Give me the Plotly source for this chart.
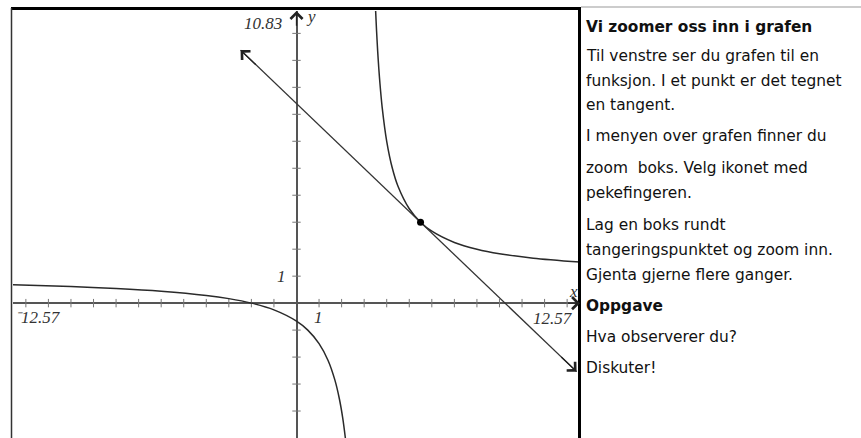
import plotly.graph_objects as go

W, H = 861, 438

# ---- data ----
left_x = [-12.57, -10.0, -8.0, -6.0, -4.0, -3.0, -2.0, -1.0, 0.0, 0.5, 1.0, 1.4, 1.7, 1.9, 2.05, 2.167, 2.2]
left_y = [0.679, 0.615, 0.545, 0.444, 0.286, 0.167, 0.0, -0.25, -0.667, -1.0, -1.5, -2.125, -2.846, -3.545, -4.263, -5.0, -5.25]
right_x = [3.48, 3.509, 3.55, 3.6, 3.65, 3.7, 3.8, 4.0, 4.25, 4.5, 5.0, 5.5, 6.0, 7.0, 8.0, 9.0, 10.5, 12.57]
right_y = [11.42, 10.83, 10.09, 9.333, 8.69, 8.143, 7.25, 6.0, 5.0, 4.333, 3.5, 3.0, 2.667, 2.25, 2.0, 1.833, 1.667, 1.522]
tangent_x = [-2.48, 12.42]
tangent_y = [9.38, -2.54]
point_x = [5.5]
point_y = [3.0]
x_ticks = [-12, -11, -10, -9, -8, -7, -6, -5, -4, -3, -2, -1, 1, 2, 3, 4, 5, 6, 7, 8, 9, 10, 11, 12]
y_ticks = [-4, -3, -2, -1, 1, 2, 3, 4, 5, 6, 7, 8, 9, 10]
x_range = [-12.57, 12.57]
y_range = [-5.0, 10.83]
x_min_label = "\u207b12.57"
x_max_label = "12.57"
y_max_label = "10.83"

text_lines = [
    ("<b>Vi zoomer oss inn i grafen</b>", 27),
    ("Til venstre ser du grafen til en", 56),
    ("funksjon. I et punkt er det tegnet", 81),
    ("en tangent.", 105),
    ("I menyen over grafen finner du", 136),
    ("zoom\u00a0 boks. Velg ikonet med", 168),
    ("pekefingeren.", 193),
    ("Lag en boks rundt", 225),
    ("tangeringspunktet og zoom inn.", 250),
    ("Gjenta gjerne flere ganger.", 275),
    ("<b>Oppgave</b>", 306),
    ("Hva observerer du?", 337),
    ("Diskuter!", 368),
]


def px(x):
    return x / W


def py(y):
    return 1 - y / H


fig = go.Figure()

# axis ticks
fig.add_trace(go.Scatter(x=x_ticks, y=[0] * len(x_ticks), mode="markers",
                         marker=dict(symbol="line-ns", size=6, line=dict(width=1, color="#777")),
                         hoverinfo="skip", showlegend=False))
fig.add_trace(go.Scatter(x=[0] * len(y_ticks), y=y_ticks, mode="markers",
                         marker=dict(symbol="line-ew", size=6, line=dict(width=1, color="#777")),
                         hoverinfo="skip", showlegend=False))

# function branches
for xs, ys in ((left_x, left_y), (right_x, right_y)):
    fig.add_trace(go.Scatter(x=xs, y=ys, mode="lines",
                             line=dict(color="#2a2a2a", width=1.5, shape="spline", smoothing=0.8),
                             hoverinfo="skip", showlegend=False))

# tangent
fig.add_trace(go.Scatter(x=tangent_x, y=tangent_y, mode="lines",
                         line=dict(color="#333", width=1.3),
                         hoverinfo="skip", showlegend=False))
fig.add_trace(go.Scatter(x=point_x, y=point_y, mode="markers",
                         marker=dict(color="black", size=7),
                         hoverinfo="skip", showlegend=False))

arrow_common = dict(xref="x", yref="y", axref="x", ayref="y", text="", showarrow=True,
                    arrowhead=4, arrowsize=1.8, arrowwidth=1.3, arrowcolor="#222", standoff=0)

ann = []
# tangent arrowheads (short tails along the line)
dx = tangent_x[1] - tangent_x[0]
dy = tangent_y[1] - tangent_y[0]
ann.append(dict(x=tangent_x[0], y=tangent_y[0], ax=tangent_x[0] + 0.05 * dx, ay=tangent_y[0] + 0.05 * dy, **arrow_common))
ann.append(dict(x=tangent_x[1], y=tangent_y[1], ax=tangent_x[1] - 0.05 * dx, ay=tangent_y[1] - 0.05 * dy, **arrow_common))
# axis arrowheads
ann.append(dict(x=0, y=y_range[1], ax=0, ay=y_range[1] - 0.6, **arrow_common))
ann.append(dict(x=x_range[1], y=0, ax=x_range[1] - 0.6, ay=0, **arrow_common))

serif = dict(family="Liberation Serif", size=17, color="#333")
def lab(text, x, y, xa="center", ya="middle"):
    return dict(text="<i>" + text + "</i>", x=px(x), y=py(y), xref="paper", yref="paper",
                xanchor=xa, yanchor=ya, showarrow=False, font=serif)

ann.append(lab(y_max_label, 284, 23, xa="right"))
ann.append(lab("y", 311, 17))
ann.append(lab("1", 281, 276))
ann.append(lab("1", 318, 317))
ann.append(lab("x", 573, 291))
ann.append(lab(x_max_label, 575, 318, xa="right"))
ann.append(lab(x_min_label, 13, 317, xa="left"))

for t, yc in text_lines:
    ann.append(dict(text=t, x=px(584), y=py(yc), xref="paper", yref="paper",
                    xanchor="left", yanchor="middle", showarrow=False,
                    font=dict(family="DejaVu Sans", size=15.4, color="#111")))

shapes = [
    dict(type="line", xref="paper", yref="paper", x0=px(11), x1=px(581), y0=py(8.5), y1=py(8.5),
         line=dict(color="black", width=3)),
    dict(type="line", xref="paper", yref="paper", x0=px(11.5), x1=px(11.5), y0=py(8), y1=py(438),
         line=dict(color="#333", width=1.5)),
    dict(type="line", xref="paper", yref="paper", x0=px(579.5), x1=px(579.5), y0=py(7), y1=py(438),
         line=dict(color="black", width=3)),
    dict(type="line", xref="paper", yref="paper", x0=px(581), x1=px(861), y0=py(7), y1=py(7),
         line=dict(color="#cccccc", width=2)),
]

fig.update_layout(
    width=W, height=H, margin=dict(l=0, r=0, t=0, b=0),
    paper_bgcolor="white", plot_bgcolor="white",
    showlegend=False, annotations=ann, shapes=shapes,
    xaxis=dict(domain=[px(13), px(580)], range=x_range, showgrid=False, showticklabels=False,
               ticks="", zeroline=True, zerolinecolor="#555", zerolinewidth=1.5, fixedrange=True),
    yaxis=dict(domain=[0, py(11)], range=y_range, showgrid=False, showticklabels=False,
               ticks="", zeroline=True, zerolinecolor="#555", zerolinewidth=1.5, fixedrange=True),
)

fig.write_html("out.html", config={"displayModeBar": False},
               post_script="document.body.style.margin='0';document.body.style.overflow='hidden';")
